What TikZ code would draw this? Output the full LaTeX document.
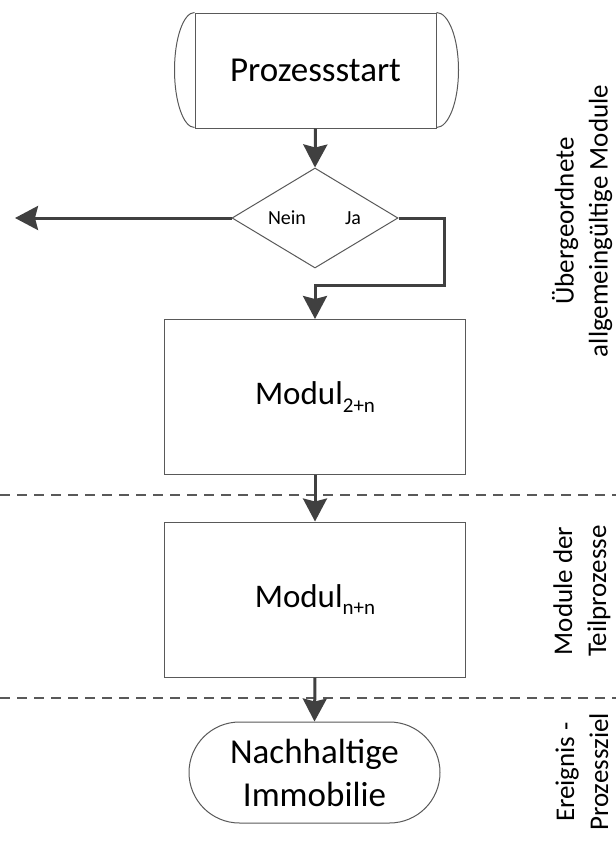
\documentclass[tikz,border=0pt]{standalone}
\usepackage{fontspec}
\setmainfont{Carlito}
\usetikzlibrary{arrows.meta,shapes.geometric,shapes.misc}

\definecolor{linegray}{HTML}{595959}
\definecolor{flowgray}{HTML}{404040}

\newcommand{\fsz}[2]{\fontsize{#1}{#2}\selectfont}
\newcommand{\modsub}[1]{\raisebox{-0.22em}{\fsz{21}{21}#1}}

\begin{document}
\begin{tikzpicture}[x=1pt,y=-1pt,
  shapeline/.style={draw=linegray,line width=1pt},
  procbox/.style={shapeline,fill=white,minimum width=301pt,minimum height=155pt,inner sep=0pt,font=\fsz{33}{38}},
  flow/.style={draw=flowgray,line width=3pt,line join=miter,
    -{Stealth[length=23pt,width=24pt,inset=3pt,fill=flowgray]}},
  seperator/.style={draw=linegray,line width=1.5pt,dash pattern=on 10pt off 7pt},
  sidelabel/.style={rotate=90,align=center,font=\fsz{27}{34}},
  decision/.style={shapeline,fill=white,diamond,minimum width=166pt,minimum height=100pt,inner sep=0pt}
]
\useasboundingbox (0,0) rectangle (616,841);

% section separators
\draw[seperator] (0,495) -- (616,495);
\draw[seperator] (0,698) -- (616,698);

% start block with curved ends
\node[shapeline,fill=white,minimum width=241pt,minimum height=115pt,inner sep=0pt,
      font=\fsz{35}{40}] (start) at (315.5,70.5) {Prozessstart};
\draw[shapeline] (start.north west) arc[start angle=90,end angle=270,x radius=20pt,y radius=57.5pt];
\draw[shapeline] (start.north east) arc[start angle=90,end angle=-90,x radius=22pt,y radius=57.5pt];

% decision
\node[decision] (dec) at (315,218) {};
\node[font=\fsz{20}{22}] (nein) at (287,218) {Nein};
\node[font=\fsz{20}{22}] (ja) at (353,218) {Ja};

% modules
\node[procbox] (m1) at (315,397) {Modul\modsub{2+n}};
\node[procbox] (m2) at (315,599.5) {Modul\modsub{n+n}};

% end event
\node[shapeline,fill=white,rounded rectangle,minimum width=251pt,minimum height=101pt,
      inner sep=0pt,align=center,font=\fsz{35}{43}] (goal) at (314.5,772.5)
      {Nachhaltige\\Immobilie};

% connectors
\coordinate (exitL) at (15,218);
\coordinate (jaturn) at (444,285);
\draw[flow] (start.south) -- (dec.north);
\draw[flow] (dec.west) -- (exitL);
\draw[flow] (dec.east) -| (jaturn) -| (m1.north);
\draw[flow] (m1.south) -- (m2.north);
\draw[flow] (m2.south) -- (goal.north);

% side labels
\node[sidelabel] (lab1) at (582,221) {Übergeordnete\\allgemeingültige Module};
\node[sidelabel] (lab2) at (582,591) {Module der\\Teilprozesse};
\node[sidelabel] (lab3) at (582,772) {Ereignis -\\Prozessziel};
\end{tikzpicture}
\end{document}
